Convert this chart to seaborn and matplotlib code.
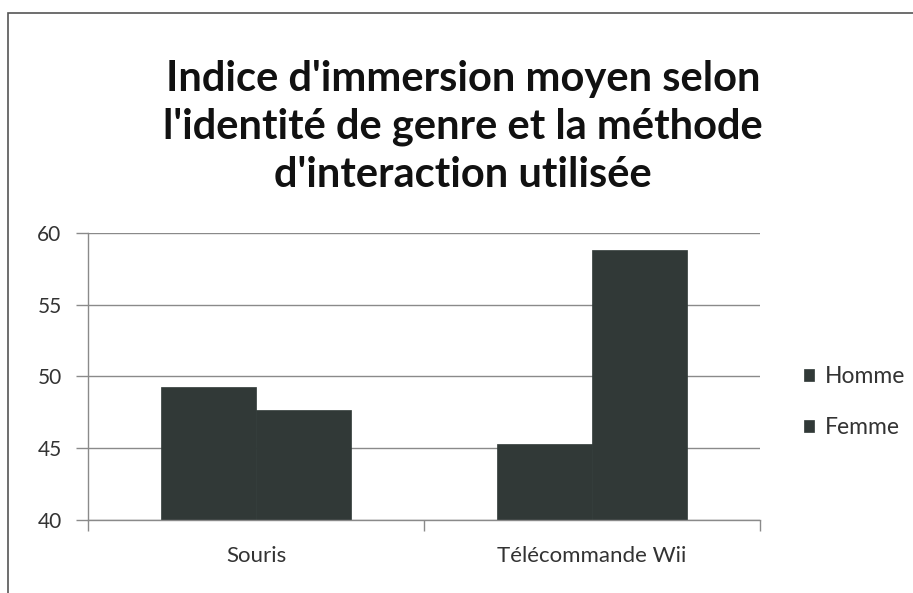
import matplotlib
matplotlib.use("Agg")
import matplotlib.pyplot as plt
import seaborn as sns
import pandas as pd
from matplotlib.patches import Rectangle

methods = ["Souris", "Télécommande Wii"]
genres = ["Homme", "Femme"]
homme = [49.3, 45.3]
femme = [47.7, 58.8]
yticks = [40, 45, 50, 55, 60]
title = "Indice d'immersion moyen selon\nl'identité de genre et la méthode\nd'interaction utilisée"

df = pd.DataFrame({
    "methode": methods * 2,
    "genre": [genres[0]] * 2 + [genres[1]] * 2,
    "indice": homme + femme,
})

sns.set_theme(style="white")
plt.rcParams["font.family"] = ["Lato", "DejaVu Sans"]

bar_color = "#303a37"
text_color = "#333333"
fig = plt.figure(figsize=(9.13, 5.93), dpi=100)
ax = fig.add_axes([88 / 913, 1 - 520 / 593, (760 - 88) / 913, (520 - 233) / 593])

sns.barplot(data=df, x="methode", y="indice", hue="genre", hue_order=genres,
            palette=[bar_color, bar_color], width=0.565, ax=ax,
            edgecolor=bar_color, linewidth=0.5)

ax.set_ylim(40, 60)
ax.set_yticks(yticks)
ax.set_yticklabels([str(v) for v in yticks], fontsize=15, color=text_color)
ax.set_xlim(-0.5, 1.5)
ax.set_xticks([0, 1])
ax.set_xticklabels(methods, fontsize=16, color=text_color)
ax.set_xlabel("")
ax.set_ylabel("")
ax.yaxis.grid(True, color="#8a8a8a", linewidth=1.0)
ax.set_axisbelow(True)
for side in ["top", "right"]:
    ax.spines[side].set_visible(False)
for side in ["left", "bottom"]:
    ax.spines[side].set_color("#8a8a8a")
    ax.spines[side].set_linewidth(1.0)
ax.tick_params(axis="y", length=9, width=1.0, color="#8a8a8a", pad=10, left=True)
ax.tick_params(axis="x", length=0, pad=19)

# category boundary tick marks on the x axis
ax.set_xticks([-0.5, 0.5, 1.5], minor=True)
ax.tick_params(axis="x", which="minor", length=8, width=1.0, color="#8a8a8a", bottom=True)

leg = ax.legend(loc="center left", bbox_to_anchor=(1.035, 0.41), frameon=False,
                fontsize=16.5, handlelength=0.45, handleheight=0.45,
                handletextpad=0.45, labelspacing=1.3)
for t in leg.get_texts():
    t.set_color(text_color)

fig.text(463 / 913, 1 - 127 / 593, title, ha="center", va="center",
         fontsize=30, fontweight="bold", color="#111111", linespacing=1.32)

# outer chart border
fig.patches.append(Rectangle((8 / 913, -0.05), 1.0, 1 - 13 / 593 + 0.05,
                             transform=fig.transFigure, fill=False,
                             edgecolor="#555555", linewidth=1.2))

fig.savefig("out.png", dpi=100)
